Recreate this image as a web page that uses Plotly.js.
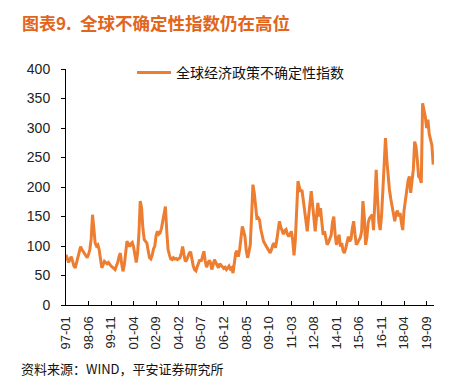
<!DOCTYPE html>
<html>
<head>
<meta charset="utf-8">
<script src="https://cdn.plot.ly/plotly-3.0.1.min.js"></script>
<style>html,body{margin:0;padding:0;background:#fff;}#chart{width:456px;height:390px;}</style>
</head>
<body>
<div id="chart"></div>
<script>
// Global economic policy uncertainty index, monthly, 1997-01 .. 2020-02
const startYear = 1997;
const epuValues = [
  // 1997
  85, 78, 72, 78, 82, 74, 66, 63, 72, 85, 95, 99,
  // 1998
  94, 90, 86, 82, 80, 86, 94, 112, 153, 130, 105, 100,
  // 1999
  102, 94, 75, 63, 68, 74, 72, 70, 72, 68, 66, 64,
  // 2000
  62, 60, 66, 72, 82, 88, 70, 57, 68, 85, 108, 104,
  // 2001
  99, 104, 106, 98, 85, 72, 88, 120, 176, 165, 130, 111,
  // 2002
  108, 105, 92, 80, 78, 84, 95, 100, 118, 125, 120, 122,
  // 2003
  130, 142, 160, 167, 125, 94, 85, 78, 77, 80, 78, 79,
  // 2004
  77, 78, 80, 88, 99, 85, 74, 76, 82, 88, 90, 75,
  // 2005
  66, 60, 58, 65, 72, 77, 74, 82, 91, 75, 64, 70,
  // 2006
  76, 72, 60, 68, 77, 72, 66, 63, 70, 67, 64, 62,
  // 2007
  64, 60, 63, 66, 61, 63, 54, 70, 88, 92, 82, 94,
  // 2008
  110, 133, 125, 116, 92, 80, 90, 102, 150, 204, 190, 160,
  // 2009
  147, 148, 144, 128, 114, 108, 104, 100, 96, 92, 88, 94,
  // 2010
  102, 105, 97, 110, 130, 142, 132, 125, 120, 126, 128, 120,
  // 2011
  116, 120, 125, 110, 84, 110, 160, 210, 200, 192, 195, 175,
  // 2012
  164, 140, 125, 150, 170, 193, 170, 140, 125, 150, 173, 150,
  // 2013
  164, 140, 119, 125, 110, 102, 106, 111, 118, 140, 150, 120,
  // 2014
  102, 110, 119, 99, 105, 92, 88, 96, 105, 116, 108, 112,
  // 2015
  130, 142, 120, 102, 106, 110, 114, 125, 176, 150, 102, 115,
  // 2016
  140, 147, 150, 153, 127, 184, 229, 180, 140, 127, 150, 193,
  // 2017
  240, 283, 246, 212, 195, 180, 167, 150, 142, 155, 160, 150,
  // 2018
  156, 140, 127, 160, 180, 190, 210, 218, 190, 210, 229, 277,
  // 2019
  269, 246, 218, 215, 207, 342, 330, 320, 300, 314, 290, 280,
  // 2020
  271, 238
];
const tickMonths = ["1997-01","1998-06","1999-11","2001-04","2002-09","2004-02","2005-07","2006-12",
  "2008-05","2009-10","2011-03","2012-08","2014-01","2015-06","2016-11","2018-04","2019-09"];
const tickLabels = ["97-01","98-06","99-11","01-04","02-09","04-02","05-07","06-12",
  "08-05","09-10","11-03","12-08","14-01","15-06","16-11","18-04","19-09"];
const seriesName = "全球经济政策不确定性指数";
const chartTitleNo = "图表9.";
const chartTitle = "全球不确定性指数仍在高位";
const sourceNote = "资料来源：WIND，平安证券研究所";

// month labels for the category axis
const months = epuValues.map((v, i) => {
  const y = startYear + Math.floor(i / 12);
  const m = (i % 12) + 1;
  return y + "-" + (m < 10 ? "0" + m : "" + m);
});

const W = 456, H = 390;
const mL = 66, mR = 22, mT = 69, mB = 85;
const pw = W - mL - mR, ph = H - mT - mB;
const px = x => (x - mL) / pw;
const py = y => (H - mB - y) / ph;

const numFont = "Liberation Sans, Arial, sans-serif";
const cjkFont = "Noto Sans CJK SC, sans-serif";

const trace = {
  type: "scatter",
  mode: "lines",
  x: months,
  y: epuValues,
  name: seriesName,
  line: {color: "#ED7D31", width: 3},
  hoverinfo: "x+y"
};

const layout = {
  width: W, height: H,
  margin: {l: mL, r: mR, t: mT, b: mB, pad: 0},
  paper_bgcolor: "#fff",
  plot_bgcolor: "#fff",
  showlegend: true,
  legend: {
    x: px(132), y: py(57), xanchor: "left", yanchor: "top",
    font: {family: cjkFont, size: 14, color: "#111"},
    bgcolor: "rgba(0,0,0,0)",
    orientation: "h",
    itemwidth: 34
  },
  xaxis: {
    type: "category",
    range: [0, 277.6],
    tickmode: "array",
    tickvals: tickMonths,
    ticktext: tickLabels,
    tickangle: -90,
    ticks: "inside",
    ticklen: 4,
    tickcolor: "#000",
    showline: true,
    linecolor: "#000",
    linewidth: 1,
    showgrid: false,
    zeroline: false,
    tickfont: {family: numFont, size: 13, color: "#222"},
    ticklabelstandoff: 5
  },
  yaxis: {
    range: [0, 400],
    tickmode: "linear",
    tick0: 0,
    dtick: 50,
    ticks: "outside",
    ticklen: 4,
    tickcolor: "#000",
    showline: true,
    linecolor: "#000",
    linewidth: 1,
    showgrid: false,
    zeroline: false,
    tickfont: {family: numFont, size: 14, color: "#222"},
    ticklabelstandoff: 8
  },
  annotations: [
    {xref: "paper", yref: "paper", x: px(20), y: py(22), xanchor: "left", yanchor: "middle",
     text: "<b>" + chartTitleNo + "</b>", showarrow: false,
     font: {family: cjkFont, size: 17, color: "#E2651C"}},
    {xref: "paper", yref: "paper", x: px(78), y: py(22), xanchor: "left", yanchor: "middle",
     text: "<b>" + chartTitle + "</b>", showarrow: false,
     font: {family: cjkFont, size: 17.5, color: "#E2651C"}},
    {xref: "paper", yref: "paper", x: px(19), y: py(368), xanchor: "left", yanchor: "middle",
     text: sourceNote, showarrow: false,
     font: {family: cjkFont, size: 13, color: "#111"}}
  ]
};

Plotly.newPlot("chart", [trace], layout, {displayModeBar: false, staticPlot: true});
</script>
</body>
</html>
